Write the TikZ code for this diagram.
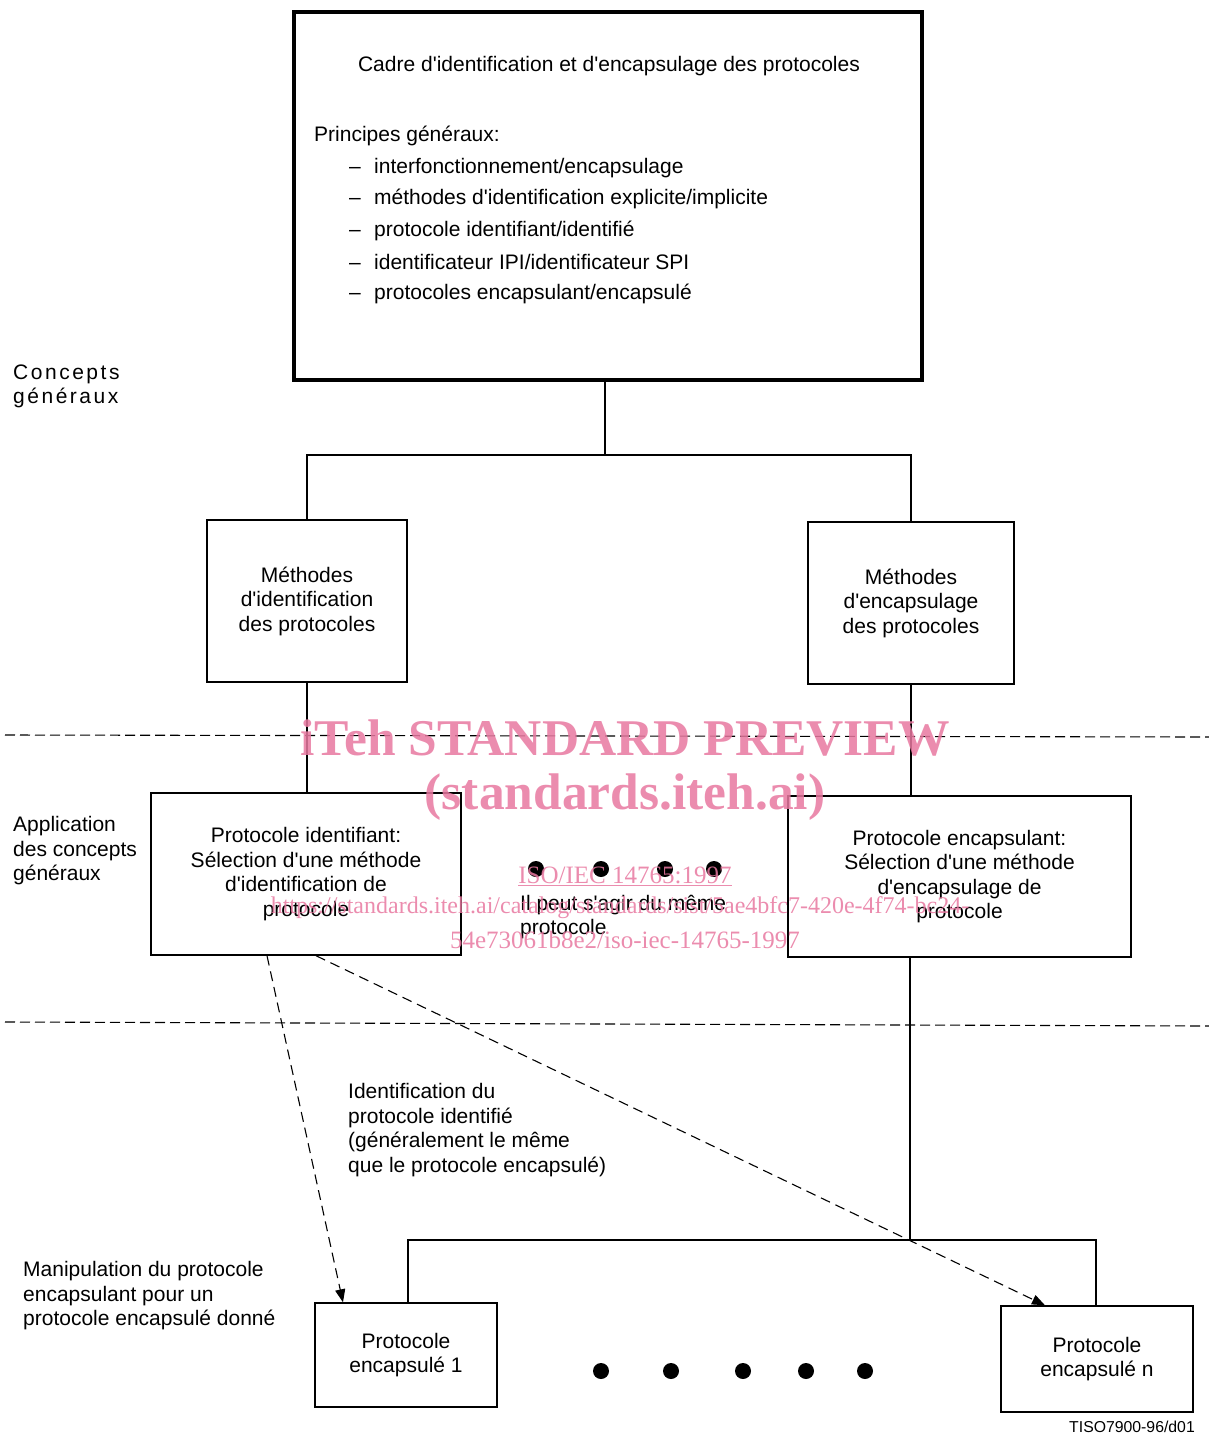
\documentclass[tikz,border=0pt]{standalone}
\usepackage{fontspec}
\setmainfont{Liberation Sans}
\newfontfamily\wmfont{Liberation Serif}
\newfontfamily\spacedfont[LetterSpace=12]{Liberation Sans}
\usetikzlibrary{calc,arrows.meta}
\definecolor{wm}{RGB}{232,120,160}
\newcommand\ap{\textquotesingle}
\begin{document}
\begin{tikzpicture}[x=1pt,y=-1pt,
  txt/.style={font=\fontsize{21}{24.5}\selectfont, inner sep=0pt},
  ltxt/.style={txt, align=left, anchor=west},
  box/.style={draw, line width=1.4pt, align=center, font=\fontsize{21}{24.5}\selectfont, inner sep=0pt},
  ln/.style={line width=1.3pt},
  dline/.style={line width=1.1pt, dash pattern=on 10pt off 5pt},
  darrow/.style={line width=1.1pt, dash pattern=on 10pt off 6pt, -{Triangle[length=13pt,width=10pt]}},
  dot/.style={circle, fill, inner sep=0pt, minimum size=16pt},
  wmbig/.style={font=\wmfont\bfseries\fontsize{51.5}{51.5}\selectfont, text=wm, text opacity=0.85, inner sep=0pt},
  wmsmall/.style={font=\wmfont\fontsize{25}{25}\selectfont, text=wm, text opacity=0.85, inner sep=0pt}]
\useasboundingbox (0,0) rectangle (1209,1436);

% top box
\node[draw, line width=4pt, minimum width=628pt, minimum height=368pt] (top) at (608,196) {};
\node[txt] (title) at (609,66) {Cadre d\ap identification et d\ap encapsulage des protocoles};
\node[txt, anchor=west] (pg) at (314,136) {Principes généraux:};
\node[txt, anchor=west] (b1) at (349,168) {\makebox[25pt][l]{–}interfonctionnement/encapsulage};
\node[txt, anchor=west] (b2) at (349,199) {\makebox[25pt][l]{–}méthodes d\ap identification explicite/implicite};
\node[txt, anchor=west] (b3) at (349,231) {\makebox[25pt][l]{–}protocole identifiant/identifié};
\node[txt, anchor=west] (b4) at (349,262) {\makebox[25pt][l]{–}identificateur IPI/identificateur SPI};
\node[txt, anchor=west] (b5) at (349,294) {\makebox[25pt][l]{–}protocoles encapsulant/encapsulé};

% second level
\node[box, minimum width=200pt, minimum height=162pt] (m1) at (307,601) {Méthodes\\d\ap identification\\des protocoles};
\node[box, minimum width=206pt, minimum height=162pt] (m2) at (911,603) {Méthodes\\d\ap encapsulage\\des protocoles};

\coordinate (j1) at (605,455);
\draw[ln] (j1 |- top.south) -- (j1);
\draw[ln] (m1.north) |- (j1) -| (m2.north);

% third level
\node[box, minimum width=310pt, minimum height=162pt] (pi) at (306,874) {Protocole identifiant:\\Sélection d\ap une méthode\\d\ap identification de\\protocole};
\node[box, minimum width=343pt, minimum height=161pt] (pe) at (959.5,876.5) {Protocole encapsulant:\\Sélection d\ap une méthode\\d\ap encapsulage de\\protocole};
\draw[ln] (m1.south) -- (m1.south |- pi.north);
\draw[ln] (m2.south) -- (m2.south |- pe.north);

\node[dot] (d1) at (536,869) {};
\node[dot] (d2) at (601,869) {};
\node[dot] (d3) at (665,869) {};
\node[dot] (d4) at (714,869) {};
\node[ltxt] (same) at (520,917) {Il peut s\ap agir du même\\protocole};

% bottom level
\node[box, minimum width=182pt, minimum height=104pt] (e1) at (406,1355) {Protocole\\encapsulé 1};
\node[box, minimum width=192pt, minimum height=106pt] (en) at (1097,1359) {Protocole\\encapsulé n};
\coordinate (j2) at (910,1240);
\draw[ln] (j2 |- pe.south) -- (j2);
\draw[ln] ($(e1.north)+(2,0)$) |- (j2) -| ($(en.north)+(-1,0)$);

\node[dot] (f1) at (601,1371) {};
\node[dot] (f2) at (671,1371) {};
\node[dot] (f3) at (743,1371) {};
\node[dot] (f4) at (806,1371) {};
\node[dot] (f5) at (865,1371) {};

% dashed arrows
\draw[darrow] ($(pi.south)+(-39,0)$) -- ($(e1.north)+(-63,0)$);
\draw[darrow] ($(pi.south)+(10,0)$) -- ($(en.north)+(-52,0)$);

% dashed separators
\draw[dline] (5,735) -- (1209,737);
\draw[dline] (5,1022) -- (1209,1026);

% side labels
\node[font=\spacedfont\fontsize{21}{24}\selectfont, align=left, anchor=west, inner sep=0pt] (c1) at (13,386) {Concepts\\généraux};
\node[ltxt] (c2) at (13,851) {Application\\des concepts\\généraux};
\node[ltxt] (c3) at (23,1296) {Manipulation du protocole\\encapsulant pour un\\protocole encapsulé donné};
\node[ltxt] (idl) at (348,1130) {Identification du\\protocole identifié\\(généralement le même\\que le protocole encapsulé)};
\node[font=\fontsize{15.8}{15.8}\selectfont, anchor=east, inner sep=0pt] (ref) at (1195,1427) {TISO7900-96/d01};

% watermark
\node[wmbig] (w1) at (625,738) {iTeh STANDARD PREVIEW};
\node[wmbig] (w2) at (625,797) {(standards.iteh.ai)};
\node[wmsmall] (w3) at (625,876) {\underline{ISO/IEC 14765:1997}};
\node[wmsmall, font=\wmfont\fontsize{24}{24}\selectfont] (w4) at (620,908) {https://standards.iteh.ai/catalog/standards/sist/5ae4bfc7-420e-4f74-bc24-};
\node[wmsmall] (w5) at (625,940) {54e73061b8e2/iso-iec-14765-1997};
\end{tikzpicture}
\end{document}
